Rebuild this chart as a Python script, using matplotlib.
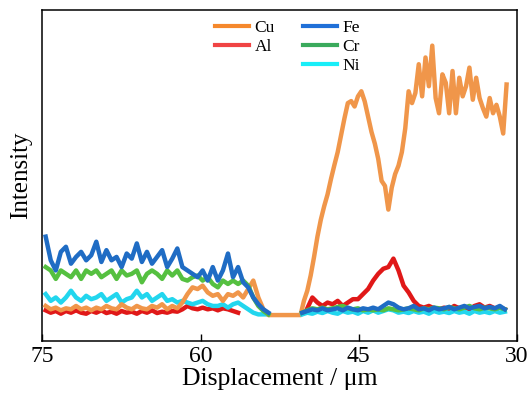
import numpy as np
import matplotlib
matplotlib.use("Agg")
import matplotlib.pyplot as plt
from matplotlib.lines import Line2D

plt.rcParams["font.family"] = ["Liberation Serif", "DejaVu Serif"]

# displacement ranges (um) of the sampled segments
left_range = (74.68, 53.56)
al_left_range = (74.68, 56.44)
cu_right_range = (50.52, 30.99)
right_range = (50.36, 31.15)
al_right_range = (49.88, 31.15)

cu_left = [11.5, 10.5, 11, 10.2, 10.8, 10.5, 11.5, 10.5, 11, 10.2, 11, 10.5, 11.5,
           10.8, 10.5, 12, 11, 10.5, 11.5, 10.8, 10.5, 11.5, 11, 12, 10.5, 11.5,
           10.8, 12.5, 15, 17, 16.5, 17.5, 15.5, 14.5, 15, 13, 15, 14.5, 15.5, 14,
           16.5, 19, 14, 10.5, 8.8]
cu_right = [8.8, 13, 16, 20.5, 26, 32, 37, 41, 44.5, 49, 53.1, 57, 62, 67, 71.5,
            72.1, 70.5, 73.5, 75, 72, 67.5, 63, 59.5, 55, 48.5, 47, 40, 46.5, 50.5,
            53, 57, 64, 75, 71.5, 74.5, 83, 73.5, 85, 76.5, 88.5, 73, 68.5, 80,
            77.5, 68.5, 81, 68.5, 79, 73.5, 76.5, 82, 72.5, 79, 73, 70, 67.5, 73,
            68.5, 71, 67.5, 62.5, 77]

fe_left = [32, 25, 22, 27.5, 29, 24, 26, 27.5, 25, 26.5, 30.5, 24.5, 28, 25, 26,
           23, 27, 25.5, 30, 24.5, 27.5, 24, 26, 28, 23, 25.5, 28.5, 23, 22, 21,
           20, 22, 19, 23, 19, 22, 27, 20, 23, 18.5, 17, 14, 12, 10.5, 9.5]
fe_right = [9.5, 10, 10.5, 10.2, 10.8, 10.2, 10.5, 10.8, 10.2, 11, 10.5, 10.2, 10.8,
            10.5, 11, 10.5, 11.5, 12.5, 12, 11, 10.5, 10.8, 11.5, 10.5, 10.8, 10.2,
            11, 10.5, 10.8, 11.2, 10.5, 11, 11.5, 10.8, 11.2, 11.5, 10.8, 11.2,
            10.8, 11.5, 10.5]

cr_left = [23, 22, 19.5, 22, 21, 20, 22, 19.5, 22, 21, 22, 20, 21, 22, 19.5, 22,
           20.5, 21, 22, 18.5, 21, 22, 21, 19.5, 22, 20.5, 22, 19.5, 19, 20, 20.5,
           19, 20, 18, 17, 19, 18, 19, 18, 19, 17.5, 14, 11.5, 10, 9]
cr_right = [9.5, 10.2, 10.8, 10.5, 11, 10.5, 10.8, 11.2, 11.5, 10.8, 10.5, 10.8,
            10.2, 10.5, 10.2, 10.5, 10.2, 10.8, 10.5, 10.2, 10.5, 10.8, 10.5, 10.2,
            10.8, 10.5, 11, 10.8, 10.5, 11.2, 10.8, 10.5, 11, 11.5, 10.8, 10.5, 11,
            10.8, 10.5, 11, 10.5]

ni_left = [15, 13, 14, 12.5, 14, 16, 14, 13, 14.5, 13.5, 14, 15, 13, 14, 15, 12.5,
           13.5, 14, 16, 14, 15, 13, 14, 15, 13, 13.5, 12.5, 13, 12.5, 12, 12.5,
           13, 12, 11.5, 11.5, 12, 11, 12, 12.5, 11.5, 10.5, 9.5, 9, 9, 9]
ni_right = [9, 9.5, 9.2, 9.8, 9.4, 10, 9.5, 9.2, 10, 9.5, 9.8, 9.2, 10, 9.5, 10.2,
            9.5, 10, 10.5, 10.2, 9.5, 9.8, 9.4, 10, 9.5, 9.8, 9.2, 10, 9.5, 9.8,
            9.4, 10, 9.5, 9.8, 9.2, 10, 9.5, 9.8, 9.4, 10, 9.5, 9.8]

al_left = [10.2, 9.5, 10, 9.2, 10, 9.5, 10.2, 9.5, 9.2, 10, 9.5, 10.2, 9.4, 9.8,
           9.2, 10, 9.5, 9.8, 9.2, 10, 9.5, 10.2, 9.4, 9.8, 9.5, 10, 9.8, 10.5,
           11.5, 10.8, 10.5, 11, 10.5, 10.8, 10.2, 10.8, 10.5, 10, 9.5]
al_right = [10.8, 14, 12.5, 11.5, 12.5, 12, 13, 11.5, 12.5, 13.5, 13.5, 15, 16.5,
            19, 21, 22.5, 23, 25.5, 22, 17.5, 15.5, 13, 11.5, 11, 11.5, 10.8, 10.5,
            11, 10.5, 11.5, 10.8, 11.2, 10.5, 11.5, 12, 11, 11.5, 10.8, 11, 10.5]

colors = {"Cu": "#f0964a", "Al": "#e01818", "Fe": "#1f6cc4",
          "Cr": "#55c040", "Ni": "#22d6ee"}
legend_colors = {"Cu": "#f5882c", "Al": "#f04444", "Fe": "#2070d8",
                 "Cr": "#3aaa5c", "Ni": "#18eef8"}


def xs(rng, vals):
    return np.linspace(rng[0], rng[1], len(vals))


fig = plt.figure(figsize=(5.3, 3.94), dpi=100)
ax = fig.add_axes([0.0798, 0.1353, 0.8957, 0.8393])
lw = 3.2

ax.plot(xs(al_left_range, al_left), al_left, color=colors["Al"], lw=lw, zorder=1)
ax.plot(xs(al_right_range, al_right), al_right, color=colors["Al"], lw=lw, zorder=1)
ax.plot(np.concatenate([xs(left_range, cu_left), xs(cu_right_range, cu_right)]),
        cu_left + cu_right, color=colors["Cu"], lw=lw, zorder=3)
for name, left, right, z in [("Cr", cr_left, cr_right, 4),
                             ("Fe", fe_left, fe_right, 5),
                             ("Ni", ni_left, ni_right, 2)]:
    ax.plot(xs(left_range, left), left, color=colors[name], lw=lw, zorder=z)
    ax.plot(xs(right_range, right), right, color=colors[name], lw=lw, zorder=z + 4)

handles = [Line2D([], [], color=legend_colors[n], lw=3) for n in ["Cu", "Al"]]
handles.append(Line2D([], [], color="none"))
handles += [Line2D([], [], color=legend_colors[n], lw=3) for n in ["Fe", "Cr", "Ni"]]
labels = ["Cu", "Al", "", "Fe", "Cr", "Ni"]
ax.legend(handles, labels, ncol=2, loc="upper left", bbox_to_anchor=(0.345, 0.995),
          frameon=False, fontsize=12.5, handlelength=2.0, handletextpad=0.3,
          labelspacing=0.15, columnspacing=1.6, borderpad=0)

ax.set_xlim(75, 30)
ax.set_ylim(1.22, 99.04)
ax.set_xticks([75, 60, 45, 30])
ax.set_yticks([])
ax.tick_params(axis="x", direction="in", length=5, width=1, labelsize=17, pad=4)
for s in ax.spines.values():
    s.set_linewidth(1.1)
ax.set_xlabel("Displacement / μm", fontsize=18.5, labelpad=0.5)
ax.set_ylabel("Intensity", fontsize=18, labelpad=7)

fig.savefig("out.png", dpi=100)
